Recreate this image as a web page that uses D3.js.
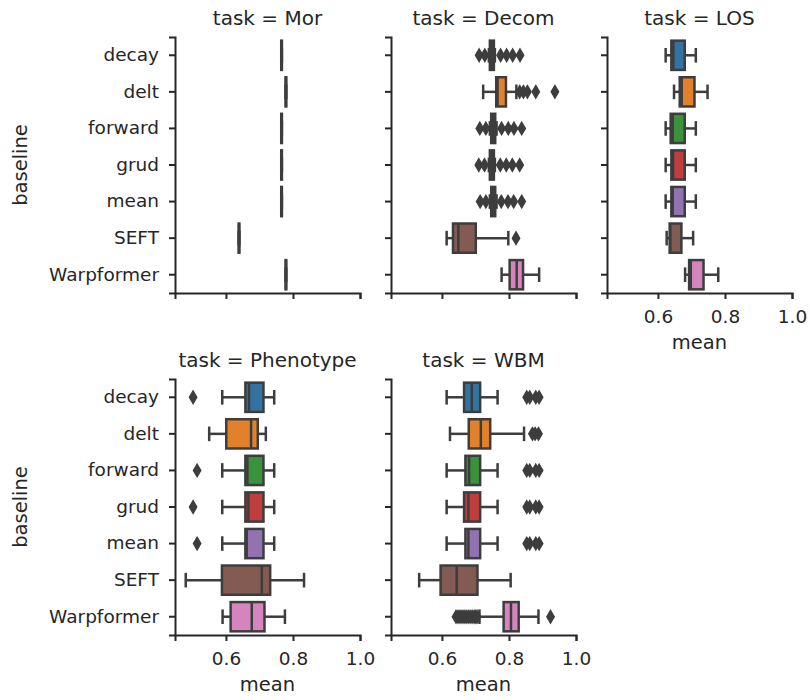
<!DOCTYPE html>
<html>
<head>
<meta charset="utf-8">
<script src="https://cdn.jsdelivr.net/npm/d3@7"></script>
<style>
  body { margin: 0; background: #fff; }
  svg text { font-family: "DejaVu Sans", sans-serif; fill: #262626; }
</style>
</head>
<body>
<div id="chart"></div>
<script>
const tasks = ["Mor", "Decom", "LOS", "Phenotype", "WBM"]
const baselines = ["decay", "delt", "forward", "grud", "mean", "SEFT", "Warpformer"]
const xTicks = [0.6, 0.8, 1.0]

// one row per baseline: [whisker low, q1, median, q3, whisker high]
const statsMor = [
  [0.765, 0.765, 0.766, 0.767, 0.767],
  [0.778, 0.778, 0.779, 0.780, 0.780],
  [0.765, 0.765, 0.766, 0.767, 0.767],
  [0.765, 0.765, 0.766, 0.767, 0.767],
  [0.765, 0.765, 0.766, 0.767, 0.767],
  [0.638, 0.638, 0.639, 0.640, 0.640],
  [0.778, 0.778, 0.779, 0.780, 0.780]
]
const statsDecom = [
  [0.740, 0.743, 0.749, 0.755, 0.758],
  [0.723, 0.762, 0.766, 0.791, 0.822],
  [0.743, 0.747, 0.753, 0.759, 0.763],
  [0.740, 0.743, 0.749, 0.755, 0.758],
  [0.743, 0.747, 0.753, 0.759, 0.763],
  [0.614, 0.633, 0.649, 0.701, 0.798],
  [0.778, 0.802, 0.823, 0.842, 0.890]
]
const statsLOS = [
  [0.623, 0.640, 0.646, 0.680, 0.713],
  [0.648, 0.665, 0.671, 0.709, 0.748],
  [0.623, 0.638, 0.644, 0.680, 0.713],
  [0.623, 0.640, 0.645, 0.680, 0.713],
  [0.623, 0.640, 0.644, 0.680, 0.713],
  [0.626, 0.635, 0.637, 0.670, 0.705],
  [0.681, 0.693, 0.698, 0.736, 0.780]
]
const statsPhenotype = [
  [0.589, 0.658, 0.669, 0.712, 0.744],
  [0.550, 0.601, 0.675, 0.695, 0.719],
  [0.589, 0.658, 0.664, 0.712, 0.744],
  [0.589, 0.658, 0.667, 0.712, 0.744],
  [0.589, 0.658, 0.662, 0.712, 0.744],
  [0.480, 0.588, 0.707, 0.732, 0.833],
  [0.590, 0.614, 0.677, 0.715, 0.776]
]
const statsWBM = [
  [0.614, 0.666, 0.689, 0.714, 0.766],
  [0.624, 0.680, 0.716, 0.744, 0.845],
  [0.614, 0.670, 0.681, 0.714, 0.766],
  [0.614, 0.666, 0.679, 0.714, 0.766],
  [0.614, 0.670, 0.679, 0.714, 0.766],
  [0.532, 0.596, 0.644, 0.706, 0.805],
  [0.712, 0.784, 0.806, 0.829, 0.888]
]

// outliers per baseline
const fliersMor = [[], [], [], [], [], [], []]
const fliersDecom = [
  [0.711, 0.728, 0.775, 0.793, 0.811, 0.833],
  [0.832, 0.843, 0.855, 0.880, 0.937],
  [0.713, 0.731, 0.778, 0.798, 0.815, 0.838],
  [0.710, 0.727, 0.774, 0.792, 0.810, 0.832],
  [0.714, 0.731, 0.777, 0.797, 0.814, 0.838],
  [0.821],
  []
]
const fliersLOS = [[], [], [], [], [], [], []]
const fliersPhenotype = [[0.502], [], [0.514], [0.502], [0.514], [], []]
const fliersWBM = [
  [0.853, 0.862, 0.880, 0.890],
  [0.870, 0.878, 0.888],
  [0.853, 0.862, 0.880, 0.890],
  [0.853, 0.862, 0.880, 0.890],
  [0.853, 0.862, 0.880, 0.890],
  [],
  [0.642, 0.648, 0.654, 0.660, 0.666, 0.672, 0.678, 0.684, 0.690, 0.696, 0.701, 0.705, 0.924]
]

const statsByTask = [statsMor, statsDecom, statsLOS, statsPhenotype, statsWBM]
const fliersByTask = [fliersMor, fliersDecom, fliersLOS, fliersPhenotype, fliersWBM]

const palette = ["#3274a1", "#e1812c", "#3a923a", "#c03d3e", "#9372b2", "#845b53", "#d684bd"]
const gray = "#3d3d3d"

const width = 810, height = 700
const panelW = 185, panelH = 256
const left0 = 175, top0 = 37, colStep = 216, rowStep = 342
const lw = 2.5

const svg = d3.select("#chart").append("svg")
  .attr("width", width)
  .attr("height", height)

const x = d3.scaleLinear().domain([0.448, 1.0]).range([0, panelW])
const y = d3.scaleBand().domain(baselines).range([0, panelH])
const bw = y.bandwidth()
const half = bw * 0.4

const diamond = "M0,-6.5L3.8,0L0,6.5L-3.8,0Z"

tasks.forEach((task, i) => {
  const col = i % 3, row = Math.floor(i / 3)
  const g = svg.append("g")
    .attr("transform", `translate(${left0 + col * colStep},${top0 + row * rowStep})`)

  // is this the lowest panel in its column
  const bottomPanel = i + 3 >= tasks.length

  const stats = statsByTask[i]
  const fliers = fliersByTask[i]

  baselines.forEach((b, j) => {
    const [lo, q1, med, q3, hi] = stats[j]
    const yc = y(b) + bw / 2
    const bx = g.append("g")

    bx.append("line")
      .attr("x1", x(lo)).attr("x2", x(q1))
      .attr("y1", yc).attr("y2", yc)
      .attr("stroke", gray).attr("stroke-width", lw)
    bx.append("line")
      .attr("x1", x(q3)).attr("x2", x(hi))
      .attr("y1", yc).attr("y2", yc)
      .attr("stroke", gray).attr("stroke-width", lw)
    bx.selectAll(".cap").data([lo, hi]).enter().append("line")
      .attr("x1", d => x(d)).attr("x2", d => x(d))
      .attr("y1", yc - half / 2).attr("y2", yc + half / 2)
      .attr("stroke", gray).attr("stroke-width", lw)
    bx.append("rect")
      .attr("x", x(q1)).attr("y", yc - half)
      .attr("width", Math.max(0, x(q3) - x(q1)))
      .attr("height", half * 2)
      .attr("fill", palette[j])
      .attr("stroke", gray).attr("stroke-width", lw)
    bx.append("line")
      .attr("x1", x(med)).attr("x2", x(med))
      .attr("y1", yc - half).attr("y2", yc + half)
      .attr("stroke", gray).attr("stroke-width", lw)
    bx.selectAll(".flier").data(fliers[j]).enter().append("path")
      .attr("d", diamond)
      .attr("transform", d => `translate(${x(d)},${yc})`)
      .attr("fill", gray)
      .attr("stroke", gray)
      .attr("stroke-width", 1.2)
  })

  // axes
  const yAxis = d3.axisLeft(y).tickSizeOuter(0).tickSize(6).tickPadding(10)
  if (col !== 0) yAxis.tickFormat("")
  const ya = g.append("g").call(yAxis)

  const xAxis = d3.axisBottom(x).tickValues(xTicks).tickSizeOuter(0).tickSize(6).tickPadding(11)
    .tickFormat(d3.format(".1f"))
  if (!bottomPanel) xAxis.tickFormat("")
  const xa = g.append("g").attr("transform", `translate(0,${panelH})`).call(xAxis)

  ;[ya, xa].forEach(a => {
    a.select(".domain").attr("stroke", "#262626").attr("stroke-width", 2)
    a.selectAll(".tick line").attr("stroke", "#262626").attr("stroke-width", 2)
    a.selectAll(".tick text").style("font-size", "18.5px").attr("fill", "#262626")
  })

  g.append("text")
    .attr("x", panelW / 2)
    .attr("y", -12)
    .attr("text-anchor", "middle")
    .style("font-size", "20px")
    .text(`task = ${task}`)

  if (bottomPanel) {
    g.append("text")
      .attr("x", panelW / 2)
      .attr("y", panelH + 56)
      .attr("text-anchor", "middle")
      .style("font-size", "19.5px")
      .text("mean")
  }

  if (col === 0) {
    g.append("text")
      .attr("transform", `translate(${27 - left0},${panelH / 2}) rotate(-90)`)
      .attr("text-anchor", "middle")
      .style("font-size", "19.5px")
      .text("baseline")
  }
})
</script>
</body>
</html>
